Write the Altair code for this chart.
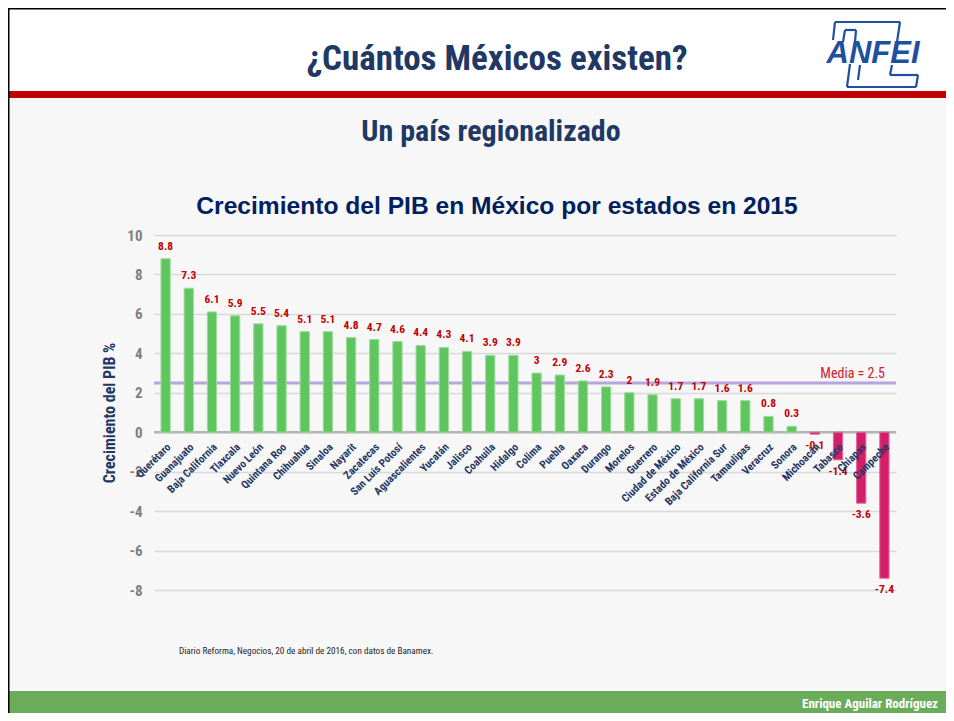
import altair as alt
import pandas as pd

# ---------------- data ----------------
states = ["Querétaro", "Guanajuato", "Baja California", "Tlaxcala", "Nuevo León",
          "Quintana Roo", "Chihuahua", "Sinaloa", "Nayarit", "Zacatecas",
          "San Luis Potosí", "Aguascalientes", "Yucatán", "Jalisco", "Coahuila",
          "Hidalgo", "Colima", "Puebla", "Oaxaca", "Durango", "Morelos", "Guerrero",
          "Ciudad de México", "Estado de México", "Baja California Sur", "Tamaulipas",
          "Veracruz", "Sonora", "Michoacán", "Tabasco", "Chiapas", "Campeche"]
growth = [8.8, 7.3, 6.1, 5.9, 5.5, 5.4, 5.1, 5.1, 4.8, 4.7, 4.6, 4.4, 4.3, 4.1, 3.9,
          3.9, 3, 2.9, 2.6, 2.3, 2, 1.9, 1.7, 1.7, 1.6, 1.6, 0.8, 0.3, -0.1, -1.4,
          -3.6, -7.4]
mean_value = 2.5
mean_label = "Media = 2.5"
y_ticks = [-8, -6, -4, -2, 0, 2, 4, 6, 8, 10]
y_domain = [-8, 10]

title_text = "¿Cuántos Méxicos existen?"
subtitle_text = "Un país regionalizado"
chart_title = "Crecimiento del PIB en México por estados en 2015"
y_title = "Crecimiento del PIB %"
source_text = "Diario Reforma, Negocios, 20 de abril de 2016, con datos de Banamex."
author_text = "Enrique Aguilar Rodríguez"
logo_text = "ANFEI"

# ---------------- styles ----------------
NARROW = "'Roboto Condensed', 'DejaVu Sans Condensed', sans-serif"
SANS = "'Liberation Sans', Arial, sans-serif"
NAVY = "#1f3864"
NAVY2 = "#002060"
RED = "#c00000"
GREEN_BAR = "#5fc55f"
NEG_BAR = "#d21f68"
LOGO_BLUE = "#1f50a0"

W, H = 742, 355
PAD = {"left": 146, "top": 227, "right": 50, "bottom": 123}
RIGHT = W + PAD["right"]
BOTTOM = H + PAD["bottom"]

df = pd.DataFrame({"state": states, "growth": growth})
df["label"] = [f"{v:g}" for v in growth]
one = pd.DataFrame({"k": [0]})

x_enc = alt.X("state:N", sort=states, axis=None,
              scale=alt.Scale(paddingInner=0.6, paddingOuter=0.3))
y_scale = alt.Scale(domain=y_domain, nice=False, zero=False)
y_axis = alt.Axis(values=y_ticks, grid=True, gridColor="#d9d9d9", gridWidth=1.5,
                  domain=False, ticks=False, labelFont=NARROW, labelFontSize=15,
                  labelFontWeight="bold", labelColor="#7f7f7f", labelPadding=12,
                  labelOverlap=False, labelExpr="'' + datum.value",
                  title=y_title, titleFont=NARROW, titleFontSize=16,
                  titleFontWeight="bold", titleColor=NAVY, titleAngle=270,
                  titleX=-37, titleY=H / 2, titleAlign="center",
                  titleBaseline="bottom")
y_enc = alt.Y("growth:Q", scale=y_scale, axis=y_axis)

base = alt.Chart(df)

bars = base.mark_bar(strokeWidth=1).encode(
    x=x_enc, y=y_enc, y2=alt.Y2Datum(0),
    color=alt.condition("datum.growth >= 0", alt.value(GREEN_BAR), alt.value(NEG_BAR)),
    stroke=alt.condition("datum.growth >= 0", alt.value("#9ddc9d"), alt.value("#e0689a")),
)

zero_rule = alt.Chart(one).mark_rule(color="#b4b4b4", strokeWidth=2.5).encode(
    y=alt.YDatum(0, scale=y_scale, axis=y_axis))

mean_rule = alt.Chart(one).mark_rule(color="#ad96d8", strokeWidth=3, opacity=0.85).encode(
    y=alt.YDatum(mean_value, scale=y_scale, axis=y_axis))

mean_text = alt.Chart(one).mark_text(
    text=mean_label, font=NARROW, fontSize=14, color="#d0202a", align="right",
    baseline="middle").encode(x=alt.value(731), y=alt.value(139))

pos_labels = base.transform_filter("datum.growth >= 0").mark_text(
    font=NARROW, fontSize=11.5, fontWeight="bold", color=RED, dy=-12,
    baseline="middle").encode(x=x_enc, y=y_enc, text="label:N")
neg_labels = base.transform_filter("datum.growth < 0").mark_text(
    font=NARROW, fontSize=11.5, fontWeight="bold", color=RED, dy=12,
    baseline="middle").encode(x=x_enc, y=y_enc, text="label:N")

x_labels = base.mark_text(
    font=NARROW, fontSize=11, fontWeight="bold", color=NAVY, angle=315,
    align="right", baseline="middle", dx=-7, dy=12).encode(
    x=x_enc, y=alt.YDatum(0, scale=y_scale, axis=y_axis), text="state:N")

# ---------------- slide decorations ----------------
def rect(x, x2, y, y2, color):
    return alt.Chart(one).mark_rect(color=color).encode(
        x=alt.value(x), x2=alt.value(x2), y=alt.value(y), y2=alt.value(y2))

def seg(x1, y1, x2, y2, color=LOGO_BLUE, w=2.2):
    # page coordinates -> plot coordinates
    return alt.Chart(one).mark_rule(color=color, strokeWidth=w).encode(
        x=alt.value(x1 - 154), x2=alt.value(x2 - 154),
        y=alt.value(y1 - 235), y2=alt.value(y2 - 235))

def txt(s, x, y, **kw):
    return alt.Chart(one).mark_text(text=s, **kw).encode(
        x=alt.value(x), y=alt.value(y))

header = rect(-146, RIGHT, -227, -144, "white")
red_band = rect(-146, RIGHT, -144, -137, RED)
footer = rect(-146, RIGHT, 456, BOTTOM, "#6aac5a")
top_border = rect(-146, RIGHT, -227, -225.5, "black")
left_border = rect(-146, -144.5, -227, BOTTOM, "black")

title = txt(title_text, 343, -165, font=NARROW, fontSize=35, fontWeight="bold",
            color=NAVY, align="center", baseline="alphabetic")
subtitle = txt(subtitle_text, 337, -94, font=NARROW, fontSize=30, fontWeight="bold",
               color=NAVY, align="center", baseline="alphabetic")
ctitle = txt(chart_title, 343, -21, font=SANS, fontSize=24.6, fontWeight="bold",
             color=NAVY2, align="center", baseline="alphabetic")
source = txt(source_text, 25, 419, font=NARROW, fontSize=9.2, color="#262626",
             align="left", baseline="alphabetic")
author = txt(author_text, 784, 473, font=NARROW, fontSize=13, fontWeight="bold",
             color="white", align="right", baseline="alphabetic")

logo = [
    seg(835, 22, 900, 22), seg(900, 22, 897, 42), seg(835, 22, 833, 40),
    seg(845, 30, 856, 30), seg(845, 30, 843, 42), seg(856, 30, 855, 42),
    seg(850, 64, 847, 87), seg(847, 87, 916, 87), seg(916, 87, 918, 75),
    seg(918, 75, 890, 75), seg(890, 75, 892, 65), seg(860, 65, 858, 80),
    txt(logo_text, 873 - 154, 54 - 235, font=SANS, fontSize=31, fontWeight="bold",
        fontStyle="italic", color=LOGO_BLUE, align="center", baseline="middle"),
]

chart = alt.layer(
    header, red_band, footer, top_border, left_border,
    zero_rule, mean_rule, bars, pos_labels, neg_labels, x_labels, mean_text,
    title, subtitle, ctitle, source, author, *logo,
).properties(
    width=W, height=H, padding=PAD,
    autosize=alt.AutoSizeParams(type="none"),
    background="#f7f7f7",
).configure_view(stroke=None)

chart.save("out.html", embed_options={"renderer": "svg", "actions": False})
